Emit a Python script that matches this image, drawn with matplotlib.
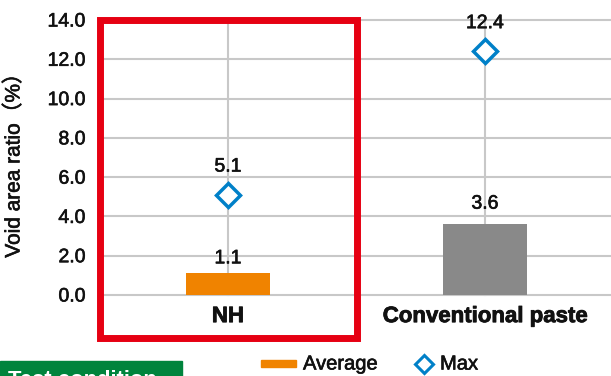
import matplotlib.pyplot as plt
import matplotlib.patheffects as pe
from matplotlib.patches import Rectangle
from matplotlib.lines import Line2D

# data
categories = ["NH", "Conventional paste"]
average = [1.1, 3.6]
maximum = [5.1, 12.4]
y_ticks = [0, 2, 4, 6, 8, 10, 12, 14]

bar_colors = ["#F08300", "#898989"]
blue = "#0080C8"
red = "#E60012"
grid_gray = "#C8C8C8"
ink = "#111111"

plt.rcParams["font.family"] = ["Liberation Sans", "Noto Sans CJK JP", "DejaVu Sans"]

W, H = 611, 376
# slight stroke so the regular text looks a bit heavier, like the original
heavy = [pe.withStroke(linewidth=0.45, foreground=ink)]
bold_stroke = [pe.withStroke(linewidth=0.6, foreground=ink)]


def px(x, y):
    """pixel position (from top left) to figure fraction"""
    return x / W, 1 - y / H


fig = plt.figure(figsize=(W / 100, H / 100), dpi=100)
left, bottom = px(99.5, 295)
ax = fig.add_axes([left, bottom, 514 / W, 275 / H])

xs = list(range(len(categories)))
ax.bar(xs, average, width=0.33, color=bar_colors, zorder=2)
ax.plot(xs, maximum, linestyle="none", marker="D", markersize=12.5,
        markerfacecolor="white", markeredgecolor=blue, markeredgewidth=2.5,
        zorder=3, clip_on=False)

# value labels
avg_offsets = [10.5, 14.5]
for x, v, off in zip(xs, average, avg_offsets):
    ax.annotate(f"{v:.1f}", (x, v), xytext=(0, off), textcoords="offset points",
                ha="center", va="center", fontsize=14, color=ink,
                path_effects=heavy)
for x, v in zip(xs, maximum):
    ax.annotate(f"{v:.1f}", (x, v), xytext=(0, 20), textcoords="offset points",
                ha="center", va="center", fontsize=14, color=ink,
                path_effects=heavy)

ax.set_xlim(-0.5, 1.5)
ax.set_ylim(0, 14)
ax.set_yticks(y_ticks)
ax.set_yticklabels([f"{t:.1f}" for t in y_ticks], fontsize=14)
for t in ax.get_yticklabels():
    t.set_path_effects(heavy)
ax.set_xticks(xs)
ax.set_xticklabels(categories, family="Liberation Sans", weight="bold",
                   fontsize=16)
for t in ax.get_xticklabels():
    t.set_path_effects(bold_stroke)
ax.tick_params(axis="both", length=0, colors=ink)
ax.tick_params(axis="y", pad=10)
ax.tick_params(axis="x", pad=8)

ax.grid(True, color=grid_gray, linewidth=1.5)
ax.set_axisbelow(True)
for gl in ax.get_ygridlines() + ax.get_xgridlines():
    gl.set_clip_on(False)
for s in ax.spines.values():
    s.set_visible(False)

ax.set_ylabel("Void area ratio（%）", fontsize=15, color=ink,
              path_effects=heavy)
ax.yaxis.set_label_coords(-0.148, 0.49)

# red highlight frame round NH
frame = Rectangle((-0.5, -2.2), 1.0, 16.2, fill=False, edgecolor=red,
                  linewidth=5, joinstyle="miter", clip_on=False, zorder=4)
ax.add_patch(frame)

# legend drawn by hand below the plot
x0, y0 = px(261, 367)
fig.add_artist(Rectangle((x0, y0), 35 / W, 7 / H, color=bar_colors[0],
                         transform=fig.transFigure))
fig.text(*px(303, 364), "Average", fontsize=14.5, va="center", color=ink,
         path_effects=heavy)
dx, dy = px(423.5, 364)
fig.add_artist(Line2D([dx], [dy], marker="D", markersize=9,
                      markerfacecolor="white", markeredgecolor=blue,
                      markeredgewidth=2.2, transform=fig.transFigure))
fig.text(*px(440, 364), "Max", fontsize=14.5, va="center", color=ink,
         path_effects=heavy)

# green caption box, cut by the bottom edge as in the original
gx, gy = px(0, 380)
fig.add_artist(Rectangle((gx, gy), 182 / W, 19.5 / H, color="#00843D",
                         transform=fig.transFigure))
fig.text(*px(8, 369.5), "Test condition", family="Liberation Sans",
         fontsize=15.8, fontweight="bold", color="white", va="top")

fig.savefig("out.png", dpi=100)
